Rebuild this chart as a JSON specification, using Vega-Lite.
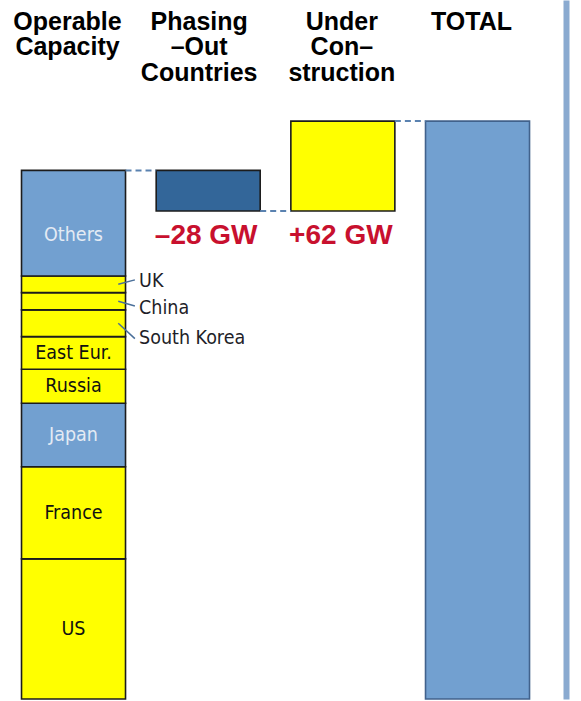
{
  "$schema": "https://vega.github.io/schema/vega-lite/v6.json",
  "width": 566,
  "height": 699,
  "autosize": {"type": "none"},
  "padding": {"left": 0, "top": 0, "right": 15, "bottom": 2},
  "background": "white",
  "config": {"view": {"stroke": null}},
  "resolve": {"axis": {"x": "independent", "y": "independent"}},
  "datasets": {
    "bars": [
      {"cat": "Operable Capacity", "seg": "US", "lo": 0, "hi": 96.6},
      {"cat": "Operable Capacity", "seg": "France", "lo": 96.6, "hi": 160.2},
      {"cat": "Operable Capacity", "seg": "Japan", "lo": 160.2, "hi": 203.9},
      {"cat": "Operable Capacity", "seg": "Russia", "lo": 203.9, "hi": 227.4},
      {"cat": "Operable Capacity", "seg": "East Eur.", "lo": 227.4, "hi": 249.9},
      {"cat": "Operable Capacity", "seg": "South Korea", "lo": 249.9, "hi": 268.3},
      {"cat": "Operable Capacity", "seg": "China", "lo": 268.3, "hi": 280.2},
      {"cat": "Operable Capacity", "seg": "UK", "lo": 280.2, "hi": 291.7},
      {"cat": "Operable Capacity", "seg": "Others", "lo": 291.7, "hi": 364.5},
      {"cat": "Phasing \u2013Out Countries", "seg": "Phasing-out", "lo": 336.5, "hi": 364.5, "change": -28},
      {"cat": "Under Con\u2013 struction", "seg": "Under construction", "lo": 336.5, "hi": 398.5, "change": 62},
      {"cat": "TOTAL", "seg": "Total", "lo": 0, "hi": 398.5}
    ],
    "links": [
      {"from": "Operable Capacity", "to": "Phasing \u2013Out Countries", "at": 364.5},
      {"from": "Phasing \u2013Out Countries", "to": "Under Con\u2013 struction", "at": 336.5},
      {"from": "Under Con\u2013 struction", "to": "TOTAL", "at": 398.5}
    ]
  },
  "layer": [
    {
      "data": {"name": "bars"},
      "mark": {"type": "bar", "strokeWidth": 1.6},
      "encoding": {
        "x": {
          "field": "cat", "type": "nominal", "sort": null,
          "scale": {"type": "band", "domain": ["Operable Capacity", "Phasing \u2013Out Countries", "Under Con\u2013 struction", "TOTAL"], "paddingInner": 0.2277, "paddingOuter": 0.2153, "align": 0.371},
          "axis": {
            "orient": "top", "title": null, "domain": false, "ticks": false, "tickSize": 0, "grid": false, "labelAngle": 0,
            "labelFont": "Liberation Sans", "labelFontWeight": "bold", "labelFontSize": 25, "labelColor": "#000000",
            "labelLineHeight": 25.5, "labelBaseline": "alphabetic", "labelPadding": -29,
            "labelOffset": {"condition": [
              {"test": "datum.value === 'Under Con\u2013 struction'", "value": -1},
              {"test": "datum.value === 'Phasing \u2013Out Countries'", "value": -9}
            ], "value": -6},
            "labelOverlap": false, "labelLimit": 0, "labelExpr": "split(datum.label, ' ')"
          }
        },
        "y": {
          "field": "lo", "type": "quantitative",
          "scale": {"domain": [0, 482], "nice": false, "zero": true},
          "axis": {"orient": "right", "title": null, "labels": false, "ticks": false, "grid": false, "domainColor": "#8aaad0", "domainWidth": 6}
        },
        "y2": {"field": "hi"},
        "fill": {
          "field": "seg", "type": "nominal", "legend": null,
          "scale": {
            "domain": ["US", "France", "Japan", "Russia", "East Eur.", "South Korea", "China", "UK", "Others", "Phasing-out", "Under construction", "Total"],
            "range": ["#ffff00", "#ffff00", "#72a0d0", "#ffff00", "#ffff00", "#ffff00", "#ffff00", "#ffff00", "#72a0d0", "#336699", "#ffff00", "#72a0d0"]
          }
        },
        "stroke": {"condition": {"test": "datum.cat === 'TOTAL'", "value": "#41628c"}, "value": "#1c1c1c"}
      }
    },
    {
      "data": {"name": "bars"},
      "transform": [
        {"filter": {"field": "seg", "oneOf": ["US", "France", "Japan", "Russia", "East Eur."]}},
        {"calculate": "(datum.lo + datum.hi) / 2", "as": "mid"}
      ],
      "mark": {"type": "text", "font": "Liberation Sans Narrow, DejaVu Sans Condensed, Liberation Sans, sans-serif", "fontSize": 19.5, "baseline": "middle", "align": "center"},
      "encoding": {
        "x": {"field": "cat", "type": "nominal", "axis": null},
        "y": {"field": "mid", "type": "quantitative", "axis": null},
        "text": {"field": "seg"},
        "color": {"condition": {"test": "datum.seg === 'Japan'", "value": "#e4ebf4"}, "value": "#111111"}
      }
    },
    {
      "data": {"name": "bars"},
      "transform": [
        {"filter": {"field": "seg", "equal": "Others"}},
        {"calculate": "(datum.lo + datum.hi) / 2", "as": "mid"}
      ],
      "mark": {"type": "text", "font": "Liberation Sans Narrow, DejaVu Sans Condensed, Liberation Sans, sans-serif", "fontSize": 19.5, "baseline": "middle", "align": "center", "dy": 12, "color": "#e4ebf4"},
      "encoding": {
        "x": {"field": "cat", "type": "nominal", "axis": null},
        "y": {"field": "mid", "type": "quantitative", "axis": null},
        "text": {"field": "seg"}
      }
    },
    {
      "data": {"name": "bars"},
      "transform": [
        {"filter": {"field": "seg", "oneOf": ["UK", "China", "South Korea"]}},
        {"calculate": "(datum.lo + datum.hi) / 2", "as": "mid"},
        {"calculate": "datum.seg === 'UK' ? 289 : datum.seg === 'China' ? 271 : 248.5", "as": "labY"}
      ],
      "mark": {"type": "rule", "color": "#4a6f99", "strokeWidth": 1.5},
      "encoding": {
        "x": {"field": "cat", "type": "nominal", "bandPosition": 0.93, "axis": null},
        "x2": {"field": "cat", "bandPosition": 1.09},
        "y": {"field": "mid", "type": "quantitative", "axis": null},
        "y2": {"field": "labY"}
      }
    },
    {
      "data": {"name": "bars"},
      "transform": [
        {"filter": {"field": "seg", "oneOf": ["UK", "China", "South Korea"]}},
        {"calculate": "datum.seg === 'UK' ? 288.5 : datum.seg === 'China' ? 269.5 : 249", "as": "labY"}
      ],
      "mark": {"type": "text", "font": "Liberation Sans Narrow, DejaVu Sans Condensed, Liberation Sans, sans-serif", "fontSize": 19.5, "baseline": "middle", "align": "left", "color": "#1e1e28"},
      "encoding": {
        "x": {"field": "cat", "type": "nominal", "bandPosition": 1.13, "axis": null},
        "y": {"field": "labY", "type": "quantitative", "axis": null},
        "text": {"field": "seg"}
      }
    },
    {
      "data": {"name": "links"},
      "mark": {"type": "rule", "color": "#5a82b0", "strokeWidth": 2, "strokeDash": [6, 4]},
      "encoding": {
        "x": {"field": "from", "type": "nominal", "bandPosition": 1, "axis": null},
        "x2": {"field": "to", "bandPosition": 0},
        "y": {"field": "at", "type": "quantitative", "axis": null}
      }
    },
    {
      "data": {"name": "bars"},
      "transform": [
        {"filter": "isValid(datum.change)"},
        {"calculate": "(datum.change < 0 ? '\u2013' : '+') + abs(datum.change) + ' GW'", "as": "txt"}
      ],
      "mark": {"type": "text", "font": "Liberation Sans", "fontWeight": "bold", "fontSize": 28, "baseline": "middle", "align": "center", "dy": 25, "dx": -2, "color": "#c8102e"},
      "encoding": {
        "x": {"field": "cat", "type": "nominal", "axis": null},
        "y": {"field": "lo", "type": "quantitative", "axis": null},
        "text": {"field": "txt"}
      }
    },
    {
      "mark": {"type": "rule", "color": "#bbbbbb", "strokeWidth": 2},
      "encoding": {
        "y": {"datum": 0, "type": "quantitative", "axis": null}
      }
    }
  ]
}
